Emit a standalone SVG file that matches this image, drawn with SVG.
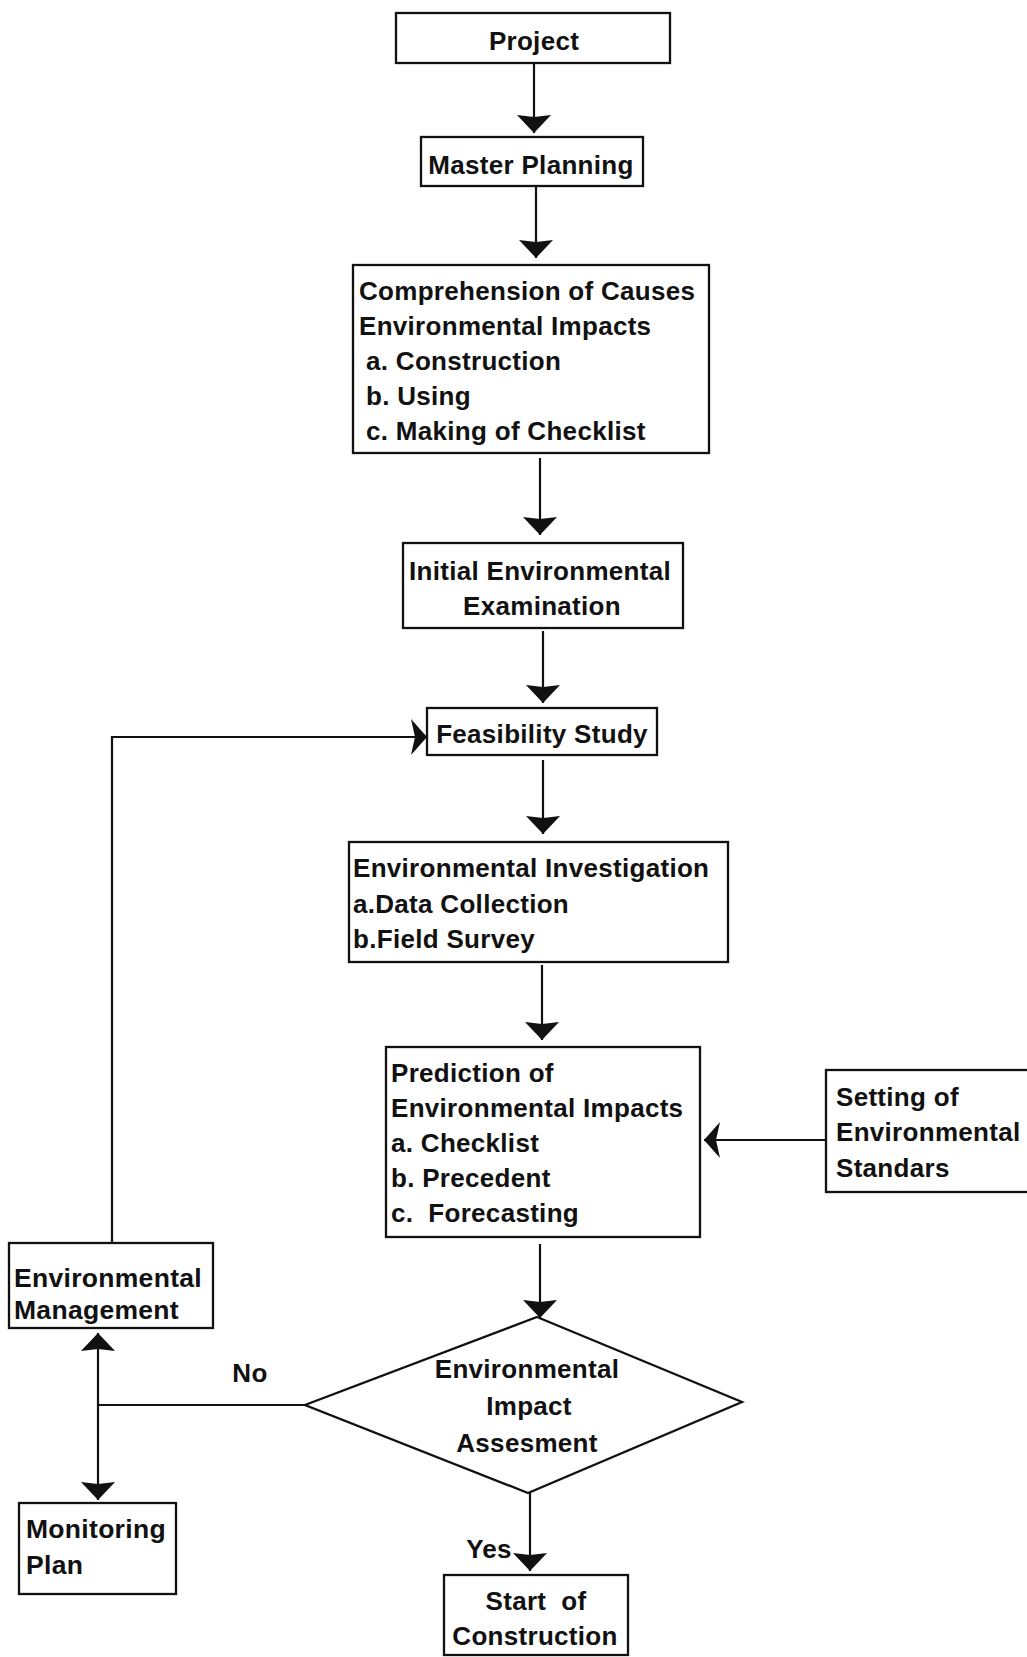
<svg xmlns="http://www.w3.org/2000/svg" width="1027" height="1657" viewBox="0 0 1027 1657">
<style>
.t { font-family: "Liberation Sans", Arial, sans-serif; font-weight: bold; font-size: 26px; letter-spacing: 0.3px; fill: #111; white-space: pre; }
.tl { font-size: 26.5px; letter-spacing: 0.3px; }
.c { text-anchor: middle; }
.box { fill: #fff; stroke: #111; stroke-width: 2.3; }
.ln { fill: none; stroke: #111; stroke-width: 2.2; }
</style>
<defs>
<marker id="ahW" viewBox="0 0 18 34" refX="18" refY="17" markerWidth="18" markerHeight="34" markerUnits="userSpaceOnUse" orient="auto">
<path d="M0,0 L18,17 L0,34 L2,17 Z" fill="#111"/>
</marker>
<marker id="ahT" viewBox="0 0 16 36" refX="16" refY="18" markerWidth="16" markerHeight="36" markerUnits="userSpaceOnUse" orient="auto">
<path d="M0,0 L16,18 L0,36 L4,18 Z" fill="#111"/>
</marker>
</defs>
<rect x="0" y="0" width="1027" height="1657" fill="#fff"/>

<g id="connectors">
<line class="ln" x1="534" y1="63" x2="534" y2="133" marker-end="url(#ahW)"/>
<line class="ln" x1="536" y1="186" x2="536" y2="258" marker-end="url(#ahW)"/>
<line class="ln" x1="540" y1="458" x2="540" y2="535" marker-end="url(#ahW)"/>
<line class="ln" x1="543" y1="631" x2="543" y2="703" marker-end="url(#ahW)"/>
<line class="ln" x1="543" y1="760" x2="543" y2="834" marker-end="url(#ahW)"/>
<line class="ln" x1="542" y1="965" x2="542" y2="1040" marker-end="url(#ahW)"/>
<line class="ln" x1="540" y1="1244" x2="540" y2="1318" marker-end="url(#ahW)"/>
<line class="ln" x1="530" y1="1493" x2="530" y2="1571" marker-end="url(#ahW)"/>
<line class="ln" x1="826" y1="1140" x2="704" y2="1140" marker-end="url(#ahT)"/>
<polyline class="ln" points="112,1243 112,737 427,737" marker-end="url(#ahT)"/>
<line class="ln" x1="305" y1="1405" x2="98" y2="1405"/>
<line class="ln" x1="98" y1="1405" x2="98" y2="1333" marker-end="url(#ahW)"/>
<line class="ln" x1="98" y1="1405" x2="98" y2="1500" marker-end="url(#ahW)"/>
<text class="t" x="250" y="1382" text-anchor="middle">No</text>
<text class="t" x="489" y="1558" text-anchor="middle">Yes</text>
</g>

<g id="project">
<rect class="box" x="396" y="13" width="274" height="50"/>
<text class="t c" x="534" y="50">Project</text>
</g>

<g id="master-planning">
<rect class="box" x="421" y="137" width="222" height="49"/>
<text class="t c" x="531" y="174">Master Planning</text>
</g>

<g id="comprehension">
<rect class="box" x="353" y="265" width="356" height="188"/>
<text class="t" x="359" y="300">Comprehension of Causes</text>
<text class="t" x="359" y="335">Environmental Impacts</text>
<text class="t" x="366" y="370">a. Construction</text>
<text class="t" x="366" y="405">b. Using</text>
<text class="t" x="366" y="440">c. Making of Checklist</text>
</g>

<g id="initial-examination">
<rect class="box" x="403" y="543" width="280" height="85"/>
<text class="t c" x="540" y="580">Initial Environmental</text>
<text class="t c" x="542" y="615">Examination</text>
</g>

<g id="feasibility">
<rect class="box" x="427" y="708" width="230" height="47"/>
<text class="t c" x="542" y="743">Feasibility Study</text>
</g>

<g id="investigation">
<rect class="box" x="349" y="842" width="379" height="120"/>
<text class="t" x="353" y="877">Environmental Investigation</text>
<text class="t" x="353" y="913">a.Data Collection</text>
<text class="t" x="353" y="948">b.Field Survey</text>
</g>

<g id="prediction">
<rect class="box" x="386" y="1047" width="314" height="190"/>
<text class="t" x="391" y="1082">Prediction of</text>
<text class="t" x="391" y="1117">Environmental Impacts</text>
<text class="t" x="391" y="1152">a. Checklist</text>
<text class="t" x="391" y="1187">b. Precedent</text>
<text class="t" x="391" y="1222" xml:space="preserve">c.  Forecasting</text>
</g>

<g id="standards">
<rect class="box" x="826" y="1070" width="210" height="122"/>
<text class="t" x="836" y="1106">Setting of</text>
<text class="t" x="836" y="1141">Environmental</text>
<text class="t" x="836" y="1177">Standars</text>
</g>

<g id="management">
<rect class="box" x="9" y="1243" width="204" height="85"/>
<text class="t tl" x="14" y="1287">Environmental</text>
<text class="t tl" x="14" y="1319">Management</text>
</g>

<g id="monitoring">
<rect class="box" x="19" y="1503" width="157" height="91"/>
<text class="t tl" x="26" y="1538">Monitoring</text>
<text class="t tl" x="26" y="1574">Plan</text>
</g>

<g id="assessment">
<polygon class="box" points="537,1317 742,1402 528,1493 305,1405"/>
<text class="t c" x="527" y="1378">Environmental</text>
<text class="t c" x="529" y="1415">Impact</text>
<text class="t c" x="527" y="1452">Assesment</text>
</g>

<g id="start-construction">
<rect class="box" x="444" y="1575" width="184" height="80"/>
<text class="t c" x="536" y="1610" xml:space="preserve">Start  of</text>
<text class="t c" x="535" y="1645">Construction</text>
</g>
</svg>
